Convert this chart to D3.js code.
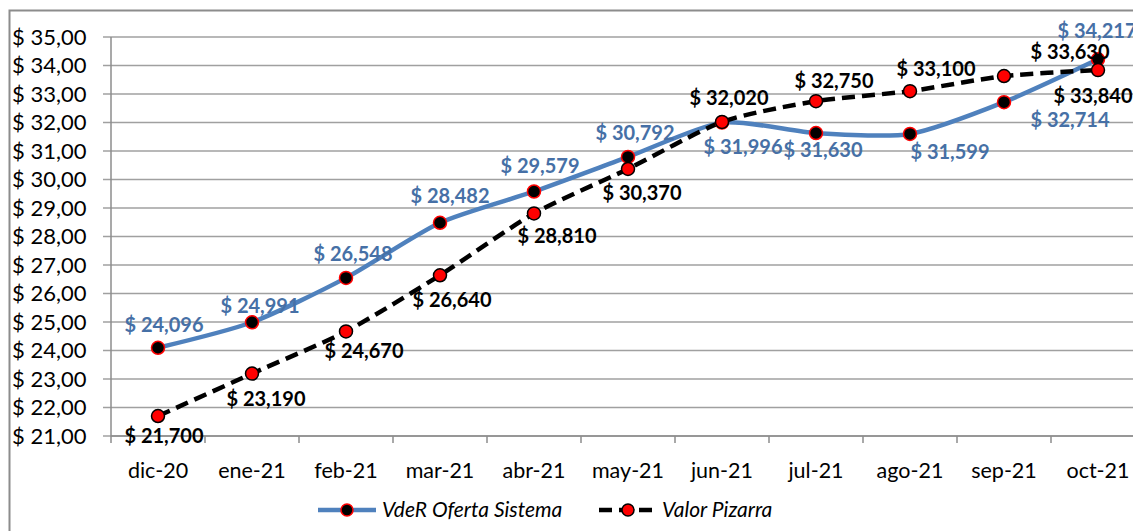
<!DOCTYPE html>
<html><head><meta charset="utf-8">
<script src="https://cdn.jsdelivr.net/npm/d3@7"></script>
<style>body{margin:0;background:#fff}svg{display:block}</style>
</head><body>
<svg id="c" width="1133" height="531"></svg>
<script>
const categories = ["dic-20","ene-21","feb-21","mar-21","abr-21","may-21","jun-21","jul-21","ago-21","sep-21","oct-21"];
const vdeR = [24.096,24.991,26.548,28.482,29.579,30.792,31.996,31.630,31.599,32.714,34.217];
const pizarra = [21.700,23.190,24.670,26.640,28.810,30.370,32.020,32.750,33.100,33.630,33.840];
const yTicks = [21,22,23,24,25,26,27,28,29,30,31,32,33,34,35];
const seriesNames = ["VdeR Oferta Sistema","Valor Pizarra"];
// label offsets (px) relative to point
const vdeROff = [[6,-23],[8,-16],[7,-24],[10,-27],[6,-25],[7,-24],[21,24],[7,17],[40,18],[66,18],[-1,-28]];
const pizOff = [[6,20],[14,25],[18,20],[12,25],[23,23],[14,24],[7,-24],[18,-20],[26,-22],[66,-24],[-5,26]];

const FONT = "Lato, 'Open Sans', sans-serif";
const svg = d3.select("#c");
const L=111, R=1145, T=37, B=436;
svg.append("rect").attr("x",9.5).attr("y",10.5).attr("width",1200).attr("height",600)
  .attr("fill","none").attr("stroke","#8c8c8c").attr("stroke-width",2);

const x = d3.scaleBand().domain(categories).range([L,R]);
const y = d3.scaleLinear().domain([21,35]).range([B,T]);
const fmtY = v => "$ " + d3.format(".2f")(v).replace(".",",");
const fmtL = v => "$ " + d3.format(".3f")(v).replace(".",",");

// gridlines
svg.append("g").selectAll("line").data(yTicks).join("line")
  .attr("x1",L-8).attr("x2",R).attr("y1",d=>y(d)).attr("y2",d=>y(d))
  .attr("stroke","#a0a0a0").attr("stroke-width",1.5);
// y labels
svg.append("g").selectAll("text").data(yTicks).join("text")
  .attr("x",12).attr("y",d=>y(d)).attr("dy","0.35em")
  .attr("font-family",FONT).attr("font-size",22).attr("fill","#000")
  .text(fmtY);
// axis lines
svg.append("line").attr("x1",L).attr("x2",L).attr("y1",T).attr("y2",B).attr("stroke","#8c8c8c").attr("stroke-width",1.5);
svg.append("line").attr("x1",L).attr("x2",R).attr("y1",B).attr("y2",B).attr("stroke","#8c8c8c").attr("stroke-width",1.5);
svg.append("g").selectAll("line").data(categories.concat(["_end"])).join("line")
  .attr("x1",(d,i)=>L+i*x.bandwidth()).attr("x2",(d,i)=>L+i*x.bandwidth())
  .attr("y1",B).attr("y2",B+7).attr("stroke","#8c8c8c").attr("stroke-width",1.5);
// x labels
svg.append("g").selectAll("text").data(categories).join("text")
  .attr("x",d=>x(d)+x.bandwidth()/2).attr("y",470).attr("dy","0.35em").attr("text-anchor","middle")
  .attr("font-family",FONT).attr("font-size",21.5).attr("fill","#000")
  .text(d=>d);

const cx = i => x(categories[i])+x.bandwidth()/2;
const line = d3.line().x((d,i)=>cx(i)).y(d=>y(d)).curve(d3.curveCardinal.tension(0.3));

svg.append("path").attr("d",line(vdeR)).attr("fill","none").attr("stroke","#4F81BD").attr("stroke-width",4.5);
svg.append("path").attr("d",line(pizarra)).attr("fill","none").attr("stroke","#000").attr("stroke-width",4.5)
  .attr("stroke-dasharray","13,7");

svg.append("g").selectAll("circle").data(vdeR).join("circle")
  .attr("cx",(d,i)=>cx(i)).attr("cy",d=>y(d)).attr("r",6.5)
  .attr("fill","#000").attr("stroke","#FF0000").attr("stroke-width",1.5);
svg.append("g").selectAll("circle").data(pizarra).join("circle")
  .attr("cx",(d,i)=>cx(i)).attr("cy",d=>y(d)).attr("r",6.5)
  .attr("fill","#FF0000").attr("stroke","#000").attr("stroke-width",1.5);

// labels
svg.append("g").selectAll("text").data(vdeR).join("text")
  .attr("x",(d,i)=>cx(i)+vdeROff[i][0]).attr("y",(d,i)=>y(d)+vdeROff[i][1]).attr("dy","0.35em")
  .attr("text-anchor","middle").attr("font-family",FONT)
  .attr("font-weight","bold").attr("font-size",20).attr("fill","#4670A6").text(fmtL);
svg.append("g").selectAll("text").data(pizarra).join("text")
  .attr("x",(d,i)=>cx(i)+pizOff[i][0]).attr("y",(d,i)=>y(d)+pizOff[i][1]).attr("dy","0.35em")
  .attr("text-anchor","middle").attr("font-family",FONT)
  .attr("font-weight","bold").attr("font-size",20).attr("fill","#000").text(fmtL);

// legend
const lg = svg.append("g");
lg.append("line").attr("x1",318).attr("x2",376).attr("y1",510).attr("y2",510).attr("stroke","#4F81BD").attr("stroke-width",4.5);
lg.append("circle").attr("cx",347).attr("cy",510).attr("r",6).attr("fill","#000").attr("stroke","#FF0000").attr("stroke-width",1.5);
lg.append("text").attr("x",382).attr("y",510).attr("dy","0.35em").attr("font-family",FONT)
  .attr("font-style","italic").attr("font-size",21).text(seriesNames[0]);
lg.append("line").attr("x1",599).attr("x2",652).attr("y1",510).attr("y2",510).attr("stroke","#000").attr("stroke-width",4.5)
  .attr("stroke-dasharray","13,7");
lg.append("circle").attr("cx",628).attr("cy",510).attr("r",6).attr("fill","#FF0000").attr("stroke","#000").attr("stroke-width",1.5);
lg.append("text").attr("x",662).attr("y",510).attr("dy","0.35em").attr("font-family",FONT)
  .attr("font-style","italic").attr("font-size",21).text(seriesNames[1]);
</script>
</body></html>
